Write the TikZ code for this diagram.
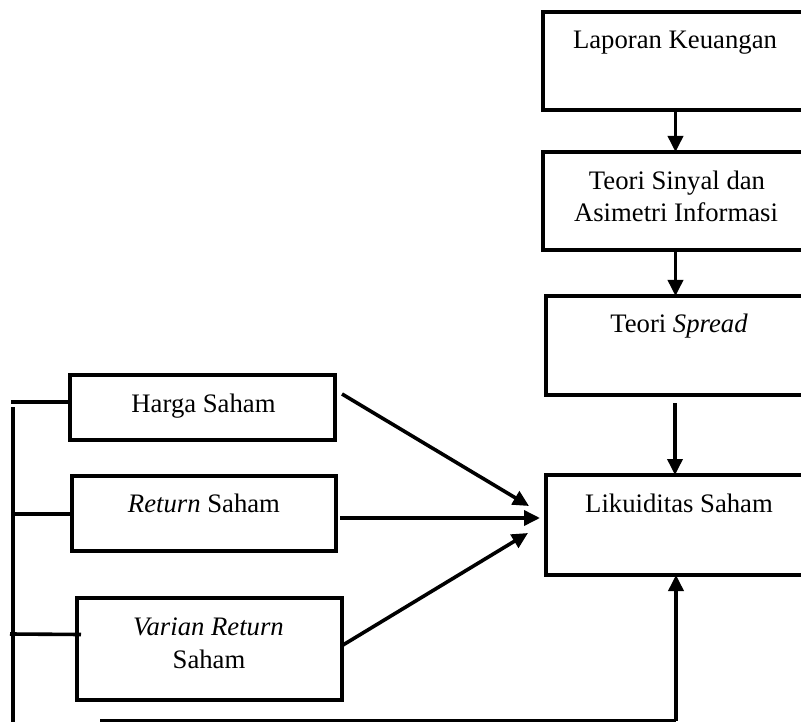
\documentclass[tikz,border=0pt]{standalone}
\usepackage{fontspec}
\setmainfont{Liberation Serif}
\usetikzlibrary{arrows.meta}
\begin{document}
\begin{tikzpicture}[x=1pt,y=-1pt,
  box/.style={draw=black,line width=4pt,minimum width=#1,inner sep=0pt,outer sep=0pt},
  lbl/.style={font=\fontsize{26.7}{32}\selectfont,inner sep=0pt,anchor=base},
  conn/.style={line width=3.6pt,draw=black},
  arr/.style={conn,-{Triangle[length=16pt,width=15pt]}}]
\useasboundingbox (0,0) rectangle (801,722);
\begin{scope}
\clip (0,0) rectangle (801,722);
% right column boxes
\node[box=265pt,minimum height=98pt] (lap) at (675.5,61) {};
\node[box=265pt,minimum height=98pt] (sin) at (675.5,201) {};
\node[box=262pt,minimum height=99pt] (spr) at (677,345.5) {};
\node[box=262pt,minimum height=100pt] (lik) at (677,525) {};
% left boxes
\node[box=265pt,minimum height=65pt] (har) at (202.5,407.5) {};
\node[box=264pt,minimum height=75pt] (ret) at (204,513.5) {};
\node[box=265pt,minimum height=102pt] (var) at (209.5,649) {};
% texts
\node[lbl] (tlap) at (675,49) {Laporan Keuangan};
\node[lbl] (tsin1) at (677,190) {Teori Sinyal dan};
\node[lbl] (tsin2) at (676,222) {Asimetri Informasi};
\node[lbl] (tspr) at (679,332) {Teori \textit{Spread}};
\node[lbl] (tlik) at (679,512) {Likuiditas Saham};
\node[lbl] (thar) at (203.5,412) {Harga Saham};
\node[lbl] (tret) at (204,512) {\textit{Return} Saham};
\node[lbl] (tvar1) at (208.5,635) {\textit{Varian Return}};
\node[lbl] (tvar2) at (209,668) {Saham};
% vertical arrows
\draw[arr] (lap.south) -- (sin.north);
\draw[arr] (sin.south) -- (sin.south |- spr.north);
\coordinate (s3) at (675,403);
\draw[arr] (s3) -- (s3 |- lik.north);
% diagonal arrows into Likuiditas
\coordinate (hs) at (342,394);
\coordinate (ht) at (529,506);
\coordinate (rs) at (340,518);
\coordinate (rt) at (540,518);
\coordinate (vs) at (343,645);
\coordinate (vt) at (528,533);
\draw[arr] (hs) -- (ht);
\draw[arr] (rs) -- (rt);
\draw[arr] (vs) -- (vt);
% left bracket lines
\coordinate (vtop) at (13,407);
\coordinate (vbot) at (13,725);
\draw[conn] (vtop) -- (vbot);
\coordinate (h1) at (11,402);
\coordinate (h2) at (13,514);
\coordinate (h3) at (10,634);
\draw[conn] (h1) -- (h1 -| har.west);
\draw[conn] (h2) -- (h2 -| ret.west);
\draw[conn] (h3) -- (81,634.5);
% bottom return line
\coordinate (b0) at (100,721);
\coordinate (b1) at (676,721);
\draw[conn] (b0) -- (b1);
\draw[arr] (b1) -- (b1 |- lik.south);
\end{scope}
\end{tikzpicture}
\end{document}
